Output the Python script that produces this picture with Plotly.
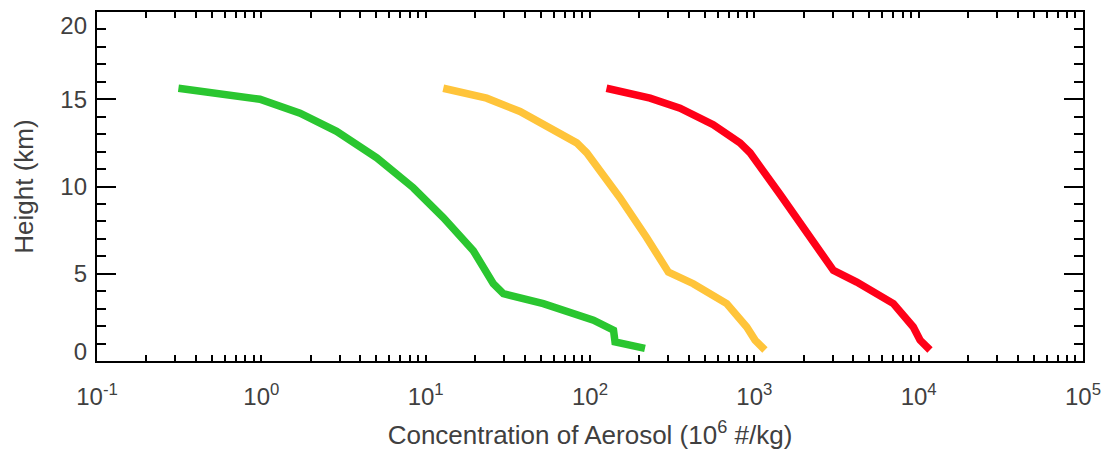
import plotly.graph_objects as go

# Aerosol concentration profiles (10^6 #/kg) versus height (km)
height_km = [15.63, 15.0, 14.2, 13.16, 11.64, 9.93, 8.22, 6.32, 4.43, 3.86, 3.29, 2.34, 1.77, 1.10, 0.72]
conc_green = [0.313, 0.98, 1.72, 2.87, 5.04, 8.4, 12.8, 19.5, 25.8, 29.7, 52, 105, 139, 142, 216]

height_yellow = [15.63, 15.06, 14.3, 13.45, 12.5, 11.93, 9.36, 7.08, 5.09, 4.43, 3.29, 1.95, 1.2, 0.63]
conc_yellow = [12.8, 23.5, 37.5, 54.5, 83, 95.5, 152, 221, 300, 425, 679, 899, 1010, 1160]

height_red = [15.63, 15.06, 14.49, 13.54, 12.5, 11.93, 9.56, 7.28, 5.19, 4.52, 3.29, 1.95, 1.2, 0.63]
conc_red = [126, 232, 353, 562, 818, 942, 1432, 2084, 3027, 4198, 7015, 9270, 10190, 11720]

x_tickvals = [1e-1, 1e0, 1e1, 1e2, 1e3, 1e4, 1e5]
x_ticktext = ["10<sup>-1</sup>", "10<sup>0</sup>", "10<sup>1</sup>", "10<sup>2</sup>",
              "10<sup>3</sup>", "10<sup>4</sup>", "10<sup>5</sup>"]
y_tickvals = [0, 5, 10, 15, 20]
y_ticktext = ["0", "5", "10", "15", "20"]
# label anchors: the end labels are nudged inward so they stay beside the frame
y_label_pos = [0.55, 5, 10, 15, 19.2]

GREEN = "rgb(42,198,48)"
YELLOW = "rgb(255,196,58)"
RED = "rgb(255,0,24)"
TEXT = "#404040"
FONT = "Liberation Sans, Arial, Helvetica, sans-serif"

# minor tick positions at 2..9 within each decade
minor_x = [k * 10.0 ** e for e in range(-1, 5) for k in range(2, 10)]

fig = go.Figure()
# both height axes share the same fixed range, so either one places the curves identically
for xs, ys, col, yax in [(conc_green, height_km, GREEN, "y2"),
                         (conc_yellow, height_yellow, YELLOW, "y"),
                         (conc_red, height_red, RED, "y")]:
    fig.add_trace(go.Scatter(x=xs, y=ys, mode="lines", yaxis=yax,
                             line=dict(color=col, width=7.5),
                             showlegend=False, hoverinfo="skip"))

fig.update_layout(
    width=1111, height=460,
    margin=dict(l=97, r=28, t=10, b=99),
    paper_bgcolor="white", plot_bgcolor="white",
    font=dict(family=FONT, color=TEXT, size=24),
)

fig.update_xaxes(
    type="log", range=[-1, 5],
    tickmode="array", tickvals=x_tickvals, ticktext=x_ticktext,
    ticks="inside", ticklen=6, tickwidth=1.5, tickcolor="black",
    minor=dict(tickmode="array", tickvals=minor_x, ticks="inside",
               ticklen=3, tickwidth=1.5, tickcolor="black", showgrid=False),
    showline=True, linecolor="black", linewidth=2, mirror="allticks",
    showgrid=False, zeroline=False,
    tickfont=dict(size=24, color=TEXT),
    ticklabelstandoff=13,
    title=dict(text="Concentration of Aerosol (10<sup>6</sup> #/kg)",
               font=dict(size=26, color=TEXT), standoff=17),
)

# tick marks and frame on the main height axis
fig.update_layout(yaxis=dict(
    range=[0, 20],
    tickmode="array", tickvals=y_tickvals,
    ticks="inside", ticklen=19, tickwidth=1.5, tickcolor="black",
    minor=dict(dtick=1, ticks="inside", ticklen=9, tickwidth=1.5,
               tickcolor="black", showgrid=False),
    showline=True, linecolor="black", linewidth=2, mirror="allticks",
    showgrid=False, zeroline=False, showticklabels=False,
))

# labels and title of the height axis
fig.update_layout(yaxis2=dict(
    overlaying="y", side="left", anchor="x",
    range=[0, 20],
    tickmode="array", tickvals=y_label_pos, ticktext=y_ticktext,
    ticks="", showline=False, showgrid=False, zeroline=False,
    tickfont=dict(size=24, color=TEXT),
    ticklabelstandoff=9,
    title=dict(text="Height (km)", font=dict(size=26, color=TEXT), standoff=19),
))

fig.write_html("out.html")
